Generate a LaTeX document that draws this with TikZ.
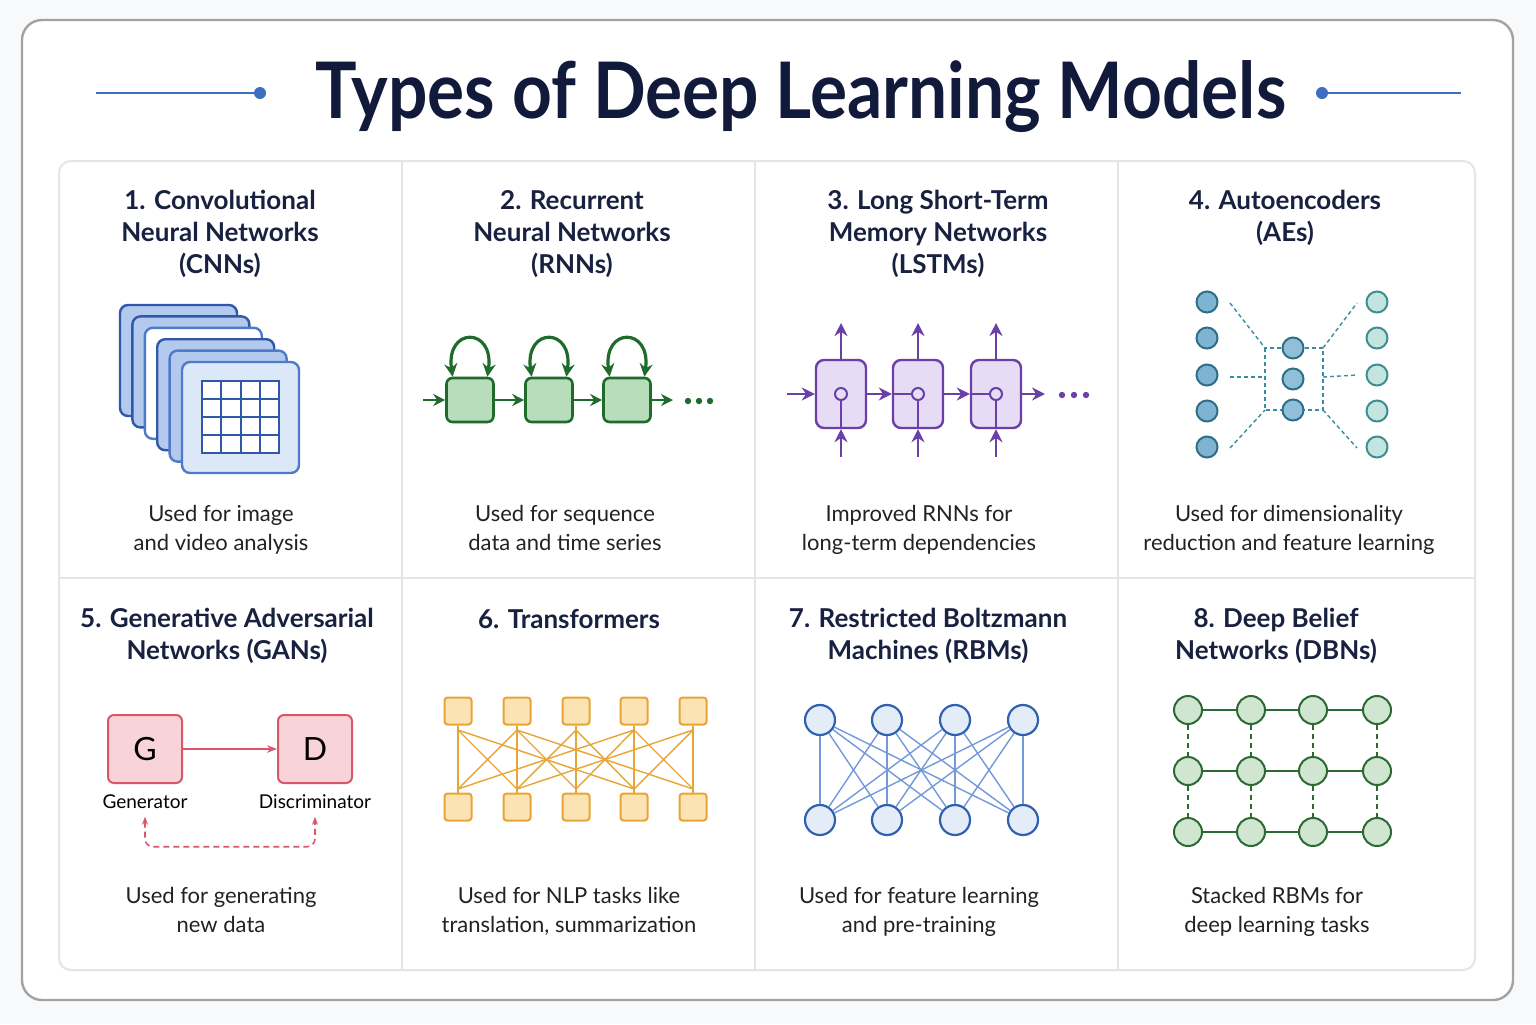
\documentclass[tikz,border=0pt]{standalone}
\usepackage{fontspec}
\setmainfont{Lato}
\usetikzlibrary{arrows.meta}
\usetikzlibrary{positioning}

\definecolor{pagebg}{HTML}{F8F9FB}
\definecolor{navy}{HTML}{111A3A}
\definecolor{headcol}{HTML}{18213F}
\definecolor{desccol}{HTML}{222222}
\definecolor{framegray}{HTML}{A3A3A3}
\definecolor{gridgray}{HTML}{E2E5EA}
\definecolor{ornblue}{HTML}{3D6FC0}
\definecolor{cnnline}{HTML}{2F58A8}
\definecolor{cnnmid}{HTML}{4F7AC8}
\definecolor{cnnfill}{HTML}{B4C9EE}
\definecolor{cnnfront}{HTML}{DCE7F8}
\definecolor{rnnline}{HTML}{1E6B2C}
\definecolor{rnnfill}{HTML}{B7DDBB}
\definecolor{lstmline}{HTML}{6B3FA8}
\definecolor{lstmfill}{HTML}{E6DCF5}
\definecolor{aeline}{HTML}{2D6F86}
\definecolor{aefillL}{HTML}{7EB4D2}
\definecolor{aelineR}{HTML}{3E8E90}
\definecolor{aefillR}{HTML}{C4E4E0}
\definecolor{aedashcol}{HTML}{3A8CA0}
\definecolor{ganline}{HTML}{D9566B}
\definecolor{ganfill}{HTML}{F8D4D9}
\definecolor{trfline}{HTML}{E6A534}
\definecolor{trffill}{HTML}{FCE3B3}
\definecolor{rbmline}{HTML}{2F61B3}
\definecolor{rbmfill}{HTML}{E4ECF8}
\definecolor{rbmlink}{HTML}{7399D8}
\definecolor{dbnline}{HTML}{2C6A33}
\definecolor{dbnfill}{HTML}{D0E6D0}

\tikzset{
  title/.style={font=\bfseries\fontsize{39}{44}\selectfont, text=navy},
  heading/.style={font=\bfseries\fontsize{13}{16}\selectfont, text=headcol, align=center,
    execute at begin node=\strut, execute at end node=\strut},
  desc/.style={font=\fontsize{11}{14.5}\selectfont, text=desccol, align=center,
    execute at begin node=\strut, execute at end node=\strut},
  ornament/.style={circle, fill=ornblue, minimum size=6pt, inner sep=0pt},
  cnnframe/.style={rounded corners=4pt, line width=1.2pt},
  cnngrid/.style={draw=cnnline, line width=1pt},
  rnnbox/.style={draw=rnnline, fill=rnnfill, line width=1.3pt, rounded corners=3pt, minimum width=23.5pt, minimum height=22pt},
  rnnarrow/.style={-{Stealth[length=6pt, width=6pt]}, line width=1.3pt, rnnline},
  rnnloop/.style={{Stealth[length=6.5pt, width=6.5pt]}-{Stealth[length=6.5pt, width=6.5pt]}, line width=1.6pt, rnnline},
  lstmbox/.style={draw=lstmline, fill=lstmfill, line width=1.2pt, rounded corners=4pt, minimum width=25pt, minimum height=34pt},
  lstmgate/.style={circle, draw=lstmline, fill=lstmfill!70!lstmline!40, line width=1pt, minimum size=6pt, inner sep=0pt},
  lstmarrow/.style={-{Stealth[length=6.5pt, width=6.5pt]}, line width=1.2pt, lstmline},
  aeleft/.style={circle, draw=aeline, fill=aefillL, line width=1pt, minimum size=10.5pt, inner sep=0pt},
  aemid/.style={circle, draw=aeline, fill=aefillL!85!white, line width=1pt, minimum size=10.5pt, inner sep=0pt},
  aeright/.style={circle, draw=aelineR, fill=aefillR, line width=1pt, minimum size=10.5pt, inner sep=0pt},
  aedash/.style={aedashcol, line width=0.7pt, dash pattern=on 2pt off 1.5pt},
  ganbox/.style={draw=ganline, fill=ganfill, line width=1pt, rounded corners=3pt, minimum width=37pt, minimum height=34pt, font=\fontsize{16}{18}\selectfont, text=black},
  ganlabel/.style={font=\fontsize{9.5}{11}\selectfont, text=black, inner sep=0pt},
  ganarrow/.style={-{Stealth[length=5pt]}, line width=1pt, ganline},
  gandash/.style={{Stealth[length=4pt]}-{Stealth[length=4pt]}, line width=0.8pt, ganline, dash pattern=on 3pt off 2pt, rounded corners=4pt},
  trfbox/.style={draw=trfline, fill=trffill, line width=1pt, rounded corners=1.5pt, minimum size=13.5pt, inner sep=0pt},
  trfedge/.style={trfline, line width=0.7pt},
  rbmnode/.style={circle, draw=rbmline, fill=rbmfill, line width=1.1pt, minimum size=15pt, inner sep=0pt},
  rbmedge/.style={rbmlink, line width=0.7pt},
  dbnnode/.style={circle, draw=dbnline, fill=dbnfill, line width=1pt, minimum size=14pt, inner sep=0pt},
  dbnedge/.style={dbnline, line width=0.9pt},
  dbnlink/.style={dbnline, line width=0.9pt, dash pattern=on 2.5pt off 2pt},
}

\begin{document}
\begin{tikzpicture}[x=0.5pt, y=-0.5pt]
\useasboundingbox (0,0) rectangle (1536,1024);
\fill[pagebg] (0,0) rectangle (1536,1024);
\draw[framegray, fill=white, line width=1.2pt, rounded corners=10pt] (22,20) rectangle (1513,1000);

\node[title] (ttl) at (801,97) {\scalebox{0.89}[1]{Types of Deep Learning Models}};
\node[ornament] (ldot) at (260,93) {};
\node[ornament] (rdot) at (1322,93) {};
\coordinate (lend) at (96,93);
\coordinate (rend) at (1461,93);
\draw[ornblue, line width=1pt] (lend) -- (ldot);
\draw[ornblue, line width=1pt] (rdot) -- (rend);

\draw[gridgray, line width=1pt, rounded corners=6pt] (59,161) rectangle (1475,970);
\draw[gridgray, line width=1pt] (59,578) -- (1475,578);
\foreach \x in {402,755,1118}
  \draw[gridgray, line width=1pt] (\x,161) -- (\x,970);

\node[heading] (h1) at (220,237) {1. Convolutional\\Neural Networks\\(CNNs)};
\node[heading] (h2) at (572,237) {2. Recurrent\\Neural Networks\\(RNNs)};
\node[heading] (h3) at (938,237) {3. Long Short-Term\\Memory Networks\\(LSTMs)};
\node[heading] (h4) at (1285,221) {4. Autoencoders\\(AEs)};
\node[heading] (h5) at (227,639) {5. Generative Adversarial\\Networks (GANs)};
\node[heading] (h6) at (569,622) {6. Transformers};
\node[heading] (h7) at (928,639) {7. Restricted Boltzmann\\Machines (RBMs)};
\node[heading] (h8) at (1276,639) {8. Deep Belief\\Networks (DBNs)};

\node[desc] (d1) at (221,532) {Used for image\\and video analysis};
\node[desc] (d2) at (565,532) {Used for sequence\\data and time series};
\node[desc] (d3) at (919,532) {Improved RNNs for\\long-term dependencies};
\node[desc] (d4) at (1289,532) {Used for dimensionality\\reduction and feature learning};
\node[desc] (d5) at (221,914) {Used for generating\\new data};
\node[desc] (d6) at (569,914) {Used for NLP tasks like\\translation, summarization};
\node[desc] (d7) at (919,914) {Used for feature learning\\and pre-training};
\node[desc] (d8) at (1277,914) {Stacked RBMs for\\deep learning tasks};

% CNN feature maps
\foreach \i/\fc/\dc in {0/cnnfill/cnnline, 1/cnnfill/cnnline, 2/white/cnnmid, 3/cnnfill/cnnline, 4/cnnfill/cnnmid}
  \draw[cnnframe, fill=\fc, draw=\dc] (120+12.4*\i,305+11.4*\i) rectangle ++(117,111);
\draw[cnnframe, fill=cnnfront, draw=cnnmid] (182,362) rectangle (299,473);
\draw[cnngrid, fill=white] (202,381) rectangle (279,453);
\foreach \k in {1,2,3} {
  \draw[cnngrid] (202+19.25*\k,381) -- (202+19.25*\k,453);
  \draw[cnngrid] (202,381+18*\k) -- (279,381+18*\k);
}

% RNN
\foreach \n/\x in {r1/470, r2/549, r3/627}
  \node[rnnbox] (\n) at (\x,400) {};
\coordinate (rin) at (423,400);
\coordinate (rout) at (673,400);
\draw[rnnarrow] (rin) -- (r1);
\draw[rnnarrow] (r1) -- (r2);
\draw[rnnarrow] (r2) -- (r3);
\draw[rnnarrow] (r3) -- (rout);
\foreach \n in {r1,r2,r3}
  \draw[rnnloop] ([xshift=-8.7pt]\n.north) .. controls +(-7,-50) and +(7,-50) .. ([xshift=8.7pt]\n.north);
\foreach \x in {688,699,710}
  \fill[rnnline] (\x,401) circle (1.6pt);

% LSTM
\foreach \n/\x in {1/841, 2/918, 3/996} {
  \node[lstmbox] (l\n) at (\x,394) {};
  \coordinate (lt\n) at (\x,323);
  \coordinate (lb\n) at (\x,457);
}
\foreach \n in {1,2,3} {
  \draw[lstmline, line width=1.1pt] (l\n.center) -- (l\n.south);
  \draw[lstmarrow] (l\n.north) -- (lt\n);
  \draw[lstmarrow] (lb\n) -- (l\n.south);
}
\draw[lstmline, line width=1.1pt] (l2.west) -- (l2.center);
\draw[lstmline, line width=1.1pt] (l3.west) -- (l3.center);
\foreach \n in {1,2,3}
  \node[lstmgate] (g\n) at (l\n.center) {};
\coordinate (lin) at (787,394);
\coordinate (lout) at (1045,394);
\draw[lstmarrow] (lin) -- (l1);
\draw[lstmarrow] (l1) -- (l2);
\draw[lstmarrow] (l2) -- (l3);
\draw[lstmarrow] (l3) -- (lout);
\foreach \x in {1062,1074,1086}
  \fill[lstmline] (\x,395) circle (1.6pt);

% Autoencoder
\coordinate (btl) at (1265,348);
\coordinate (btr) at (1323,348);
\coordinate (bbl) at (1265,410);
\coordinate (bbr) at (1323,410);
\coordinate (bml) at (1265,377);
\coordinate (bmr) at (1323,377);
\coordinate (ea) at (1230,303);
\coordinate (eb) at (1230,377);
\coordinate (ec) at (1230,448);
\coordinate (fa) at (1357,303);
\coordinate (fb) at (1357,375);
\coordinate (fc) at (1357,448);
\draw[aedash] (btl) rectangle (bbr);
\draw[aedash] (ea) -- (btl);
\draw[aedash] (eb) -- (bml);
\draw[aedash] (ec) -- (bbl);
\draw[aedash] (btr) -- (fa);
\draw[aedash] (bmr) -- (fb);
\draw[aedash] (bbr) -- (fc);
\foreach \y [count=\i] in {302,338,375,411,447} {
  \node[aeleft] (al\i) at (1207,\y) {};
  \node[aeright] (ar\i) at (1377,\y) {};
}
\foreach \y [count=\i] in {348,379,410}
  \node[aemid] (am\i) at (1293,\y) {};

% GAN
\node[ganbox] (gen) at (145,749) {G};
\node[ganbox] (disc) at (315,749) {D};
\node[ganlabel, below=5pt of gen] (genlab) {Generator};
\node[ganlabel, below=5pt of disc] (disclab) {Discriminator};
\draw[ganarrow] (gen) -- (disc);
\draw[gandash] ([yshift=-4pt]genlab.south) -- ++(0,30) -| ([yshift=-4pt]disclab.south);

% Transformer
\foreach \x [count=\i] in {458,517,576,634,693} {
  \coordinate (ts\i) at (\x,730);
  \coordinate (bs\i) at (\x,789);
}
\foreach \i/\j in {1/1,1/2,1/4, 2/1,2/2,2/3,2/5, 3/2,3/3,3/4, 4/1,4/3,4/4,4/5, 5/2,5/4,5/5}
  \draw[trfedge] (ts\i) -- (bs\j);
\foreach \x [count=\i] in {458,517,576,634,693} {
  \node[trfbox] (t\i) at (\x,711) {};
  \node[trfbox] (b\i) at (\x,807) {};
  \draw[trfedge] (t\i) -- (ts\i);
  \draw[trfedge] (bs\i) -- (b\i);
}

% RBM
\foreach \x [count=\i] in {820,887,955,1023} {
  \node[rbmnode] (v\i) at (\x,720) {};
  \node[rbmnode] (u\i) at (\x,820) {};
}
\foreach \i in {1,...,4}
  \foreach \j in {1,...,4}
    \draw[rbmedge] (v\i) -- (u\j);

% DBN
\foreach \x [count=\c] in {1188,1251,1313,1377}
  \foreach \y [count=\r] in {710,771,832}
    \node[dbnnode] (n\r\c) at (\x,\y) {};
\foreach \r in {1,2,3}
  \foreach \c/\d in {1/2,2/3,3/4}
    \draw[dbnedge] (n\r\c) -- (n\r\d);
\foreach \c in {1,...,4}
  \foreach \r/\s in {1/2,2/3}
    \draw[dbnlink] (n\r\c) -- (n\s\c);
\end{tikzpicture}
\end{document}
